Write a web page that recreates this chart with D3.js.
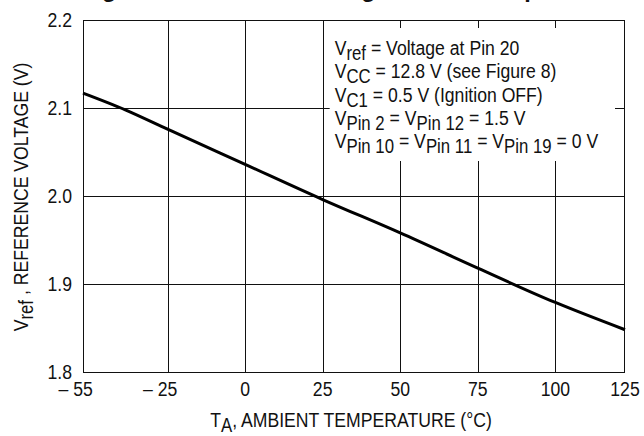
<!DOCTYPE html>
<html>
<head>
<meta charset="utf-8">
<script src="https://cdn.jsdelivr.net/npm/d3@7"></script>
<style>
    body { margin: 0; background: #fff; }
    svg { display: block; }
    text { font-family: "Liberation Sans", Arial, sans-serif; fill: #111; font-size: 21px; }
    .title { font-weight: bold; font-size: 23.5px; }
</style>
</head>
<body>
<div id="chart"></div>
<script>
// ambient temperature (C) and reference voltage (V)
var temps = [-55, -40, -25, 0, 25, 50, 75, 100, 125];
var vref = [2.117, 2.098, 2.076, 2.036, 1.996, 1.958, 1.918, 1.879, 1.848];

var tempTicks = [-55, -25, 0, 25, 50, 75, 100, 125];
var tempLabels = ["55", "25", "0", "25", "50", "75", "100", "125"];
var voltTicks = [1.8, 1.9, 2.0, 2.1, 2.2];

// condition notes, [text, subscript?]
var notes = [
    [["V", 0], ["ref", 1], [" = Voltage at Pin 20", 0]],
    [["V", 0], ["CC", 1], [" = 12.8 V (see Figure 8)", 0]],
    [["V", 0], ["C1", 1], [" = 0.5 V (Ignition OFF)", 0]],
    [["V", 0], ["Pin 2", 1], [" = V", 0], ["Pin 12", 1], [" = 1.5 V", 0]],
    [["V", 0], ["Pin 10", 1], [" = V", 0], ["Pin 11", 1], [" = V", 0], ["Pin 19", 1], [" = 0 V", 0]]
];

var margin = { top: 20, right: 19, bottom: 64, left: 83 };
var W = 644, H = 436;
var width = W - margin.left - margin.right,
    height = H - margin.top - margin.bottom;
var squeeze = 0.84; // narrow face look

var svg = d3.select("#chart").append("svg")
    .attr("width", W)
    .attr("height", H);

function place(sel, x, y, rot) {
    sel.attr("transform", "translate(" + x + "," + y + ")" +
        (rot ? " rotate(" + rot + ")" : "") + " scale(" + squeeze + ",1)");
    return sel;
}

function addParts(t, parts, subSize) {
    var down = false;
    parts.forEach(function(p) {
        var ts = t.append("tspan").text(p[0]);
        if (p[1]) {
            ts.attr("dy", 5).style("font-size", subSize + "px");
            down = true;
        } else if (down) {
            ts.attr("dy", -5);
            down = false;
        }
    });
}

// title is cut off by the top of the picture
svg.append("text")
    .attr("class", "title")
    .attr("x", 81)
    .attr("y", -3)
    .text("Figure 9. Reference Voltage versus Temperature");

var g = svg.append("g")
    .attr("transform", "translate(" + margin.left + "," + margin.top + ")");

// the printed grid is not evenly spaced at the ends
var x = d3.scaleLinear()
    .domain([-55, -25, 100, 125])
    .range([0, 0.156, 0.8715, 1].map(function(f) { return f * width; }));
var y = d3.scaleLinear().domain([1.8, 2.2]).range([height, 0]);

// grid
g.append("g").selectAll("line")
    .data(tempTicks.slice(1, -1))
    .enter().append("line")
    .attr("x1", function(d) { return Math.round(x(d)) + 0.5; })
    .attr("x2", function(d) { return Math.round(x(d)) + 0.5; })
    .attr("y1", 0).attr("y2", height)
    .attr("stroke", "#111").attr("stroke-width", 1);

g.append("g").selectAll("line")
    .data(voltTicks.slice(1, -1))
    .enter().append("line")
    .attr("x1", 0).attr("x2", width)
    .attr("y1", function(d) { return Math.round(y(d)) + 0.5; })
    .attr("y2", function(d) { return Math.round(y(d)) + 0.5; })
    .attr("stroke", "#111").attr("stroke-width", 1);

// white box behind the notes
var box = { x0: x(25) + 7, x1: width - 10, y0: 8, y1: 141 };
g.append("rect")
    .attr("x", box.x0).attr("y", box.y0)
    .attr("width", box.x1 - box.x0).attr("height", box.y1 - box.y0)
    .attr("fill", "#fff");

g.append("rect")
    .attr("x", 0.5).attr("y", 0.5)
    .attr("width", width - 1).attr("height", height)
    .attr("fill", "none").attr("stroke", "#111").attr("stroke-width", 1);

// curve
var line = d3.line()
    .x(function(d, i) { return x(temps[i]); })
    .y(function(d) { return y(d); })
    .curve(d3.curveMonotoneX);

g.append("path")
    .datum(vref)
    .attr("d", line)
    .attr("fill", "none")
    .attr("stroke", "#000")
    .attr("stroke-width", 3);

// notes
notes.forEach(function(row, i) {
    var t = place(g.append("text"), x(25) + 12, 35 + i * 23.3);
    addParts(t, row, 20);
});

// tick labels
g.append("g").selectAll("text")
    .data(voltTicks)
    .enter().append("text")
    .each(function(d) { place(d3.select(this), -11, y(d)); })
    .attr("dy", "0.35em")
    .attr("text-anchor", "end")
    .text(function(d) { return d3.format(".1f")(d); });

// negative labels: digits sit under the tick, the dash hangs left
g.append("g").selectAll("text")
    .data(tempTicks)
    .enter().append("text")
    .each(function(d, i) {
        var t = place(d3.select(this), x(d), height + 24);
        if (d < 0) t.append("tspan").text("\u2013 ");
        var num = t.append("tspan").text(tempLabels[i]);
        var total = t.node().getComputedTextLength();
        var digits = num.node().getComputedTextLength();
        t.attr("x", -(total - digits / 2));
    });

// axis titles
var xt = place(svg.append("text"), 351, 427)
    .attr("text-anchor", "middle");
addParts(xt, [["T", 0], ["A", 1], [", AMBIENT TEMPERATURE (\u00B0C)", 0]], 20);

var yt = place(svg.append("text"), 28, 197, -90)
    .attr("text-anchor", "middle");
addParts(yt, [["V", 0], ["ref", 1], [" , REFERENCE VOLTAGE (V)", 0]], 20);
</script>
</body>
</html>
